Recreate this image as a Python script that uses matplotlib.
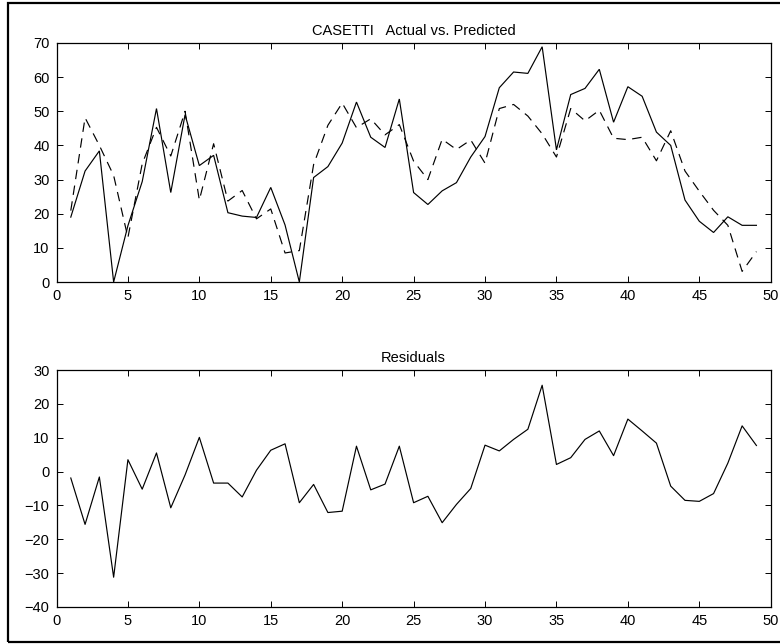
import numpy as np
import matplotlib
matplotlib.use("Agg")
import matplotlib.pyplot as plt
from matplotlib.patches import Rectangle

plt.rcParams['font.family'] = ['Liberation Sans', 'DejaVu Sans']

# observation index
obs = list(range(1, 50))

# actual values of the dependent variable
actual = [19.0, 32.5, 38.4, 0.0, 16.5, 29.4, 50.8, 26.2, 49.0, 34.1,
          37.1, 20.3, 19.3, 18.9, 27.7, 16.7, 0.0, 30.6, 33.8, 40.7,
          52.7, 42.4, 39.4, 53.6, 26.2, 22.7, 26.7, 29.1, 36.6, 42.6,
          56.9, 61.5, 61.1, 68.9, 38.7, 54.9, 56.7, 62.3, 46.8, 57.2,
          54.4, 43.9, 40.0, 24.0, 17.8, 14.5, 19.1, 16.6, 16.6]

# model predictions
predicted = [20.9, 48.1, 40.0, 31.2, 13.0, 34.6, 45.3, 36.9, 50.0, 24.0,
             40.5, 23.7, 26.8, 18.5, 21.4, 8.5, 9.2, 34.4, 45.9, 52.4,
             45.2, 47.8, 43.1, 46.1, 35.4, 30.0, 41.8, 38.8, 41.6, 34.8,
             50.8, 52.0, 48.6, 43.4, 36.6, 50.8, 47.2, 50.3, 42.1, 41.7,
             42.4, 35.5, 44.3, 32.5, 26.6, 21.0, 16.6, 3.1, 8.9]

x_ticks = [0, 5, 10, 15, 20, 25, 30, 35, 40, 45, 50]
top_yticks = [0, 10, 20, 30, 40, 50, 60, 70]
bot_yticks = [-40, -30, -20, -10, 0, 10, 20, 30]

residuals = np.array(actual) - np.array(predicted)

W, H = 780, 644
fig = plt.figure(figsize=(W / 100, H / 100), dpi=100)

left = 56.5 / W
width = (770.7 - 56.5) / W
ax1 = fig.add_axes([left, 1 - 282 / H, width, (282 - 43) / H])
ax2 = fig.add_axes([left, 1 - 607 / H, width, (607 - 370) / H])


def style(ax, yticks):
    ax.set_xlim(0, 50)
    ax.set_ylim(yticks[0], yticks[-1])
    ax.set_xticks(x_ticks)
    ax.set_yticks(yticks)
    ax.tick_params(direction='in', length=4.5, width=0.7, top=True, right=True,
                   labelsize=10.5, pad=5, colors='black')
    for s in ax.spines.values():
        s.set_linewidth(0.9)
        s.set_color('black')


ax1.plot(obs, actual, color='black', lw=0.85, solid_joinstyle='miter')
ax1.plot(obs, predicted, color='black', lw=0.85, linestyle=(0, (8, 5.5)))
style(ax1, top_yticks)
ax1.set_title('CASETTI   Actual vs. Predicted', fontsize=10.5, pad=6)

ax2.plot(obs, residuals, color='black', lw=0.85)
style(ax2, bot_yticks)
ax2.set_title('Residuals', fontsize=10.5, pad=6)

# outer frame around the figure (right edge runs off the canvas)
fig.patches.append(Rectangle((7.5 / W, 2.5 / H), (790 - 7.5) / W, (641.5 - 2.5) / H,
                             transform=fig.transFigure, fill=False,
                             edgecolor='black', linewidth=1.6))

fig.savefig('out.png', dpi=100)
